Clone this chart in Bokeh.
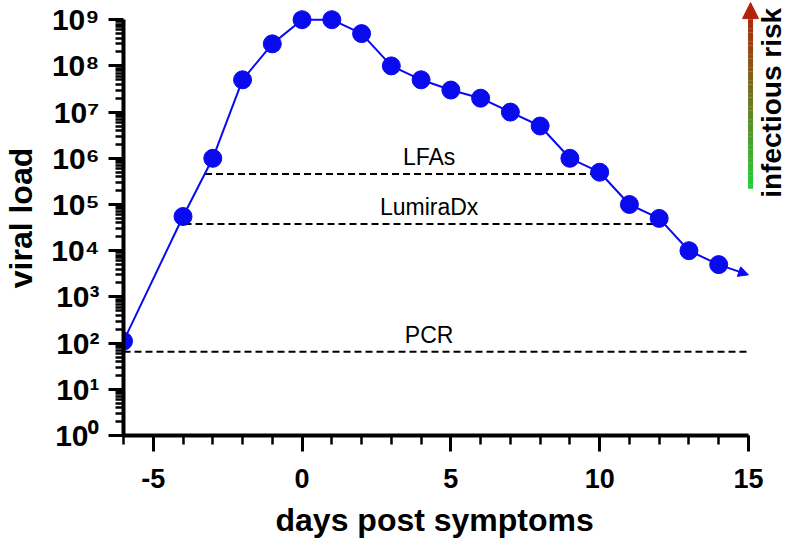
import math
from bokeh.plotting import figure
from bokeh.models import (Range1d, FixedTicker, CustomJSTickFormatter, Arrow,
                          NormalHead, Label, Title)
from bokeh.core.properties import value
from bokeh.embed import file_html
from bokeh.resources import INLINE

# ---- data ----
days = [-6, -4, -3, -2, -1, 0, 1, 2, 3, 4, 5, 6, 7, 8, 9, 10, 11, 12, 13, 14]
viral_load = [1.1e2, 5.5e4, 1e6, 5e7, 3e8, 1e9, 1e9, 5e8, 1e8, 5e7, 3e7, 2e7,
              1e7, 5e6, 1e6, 5e5, 1e5, 5e4, 1e4, 5e3]
tail_day = 15
tail_load = 3e3

lfa_x = [-3.26, 10]
lfa_level = 4.6e5
lumira_x = [-3.95, 12]
lumira_level = 3.8e4
pcr_x = [-6, 15]
pcr_level = 65
threshold_names = ["LFAs", "LumiraDx", "PCR"]
threshold_levels = [lfa_level, lumira_level, pcr_level]
label_day = 4.27

x_major = [-5, 0, 5, 10, 15]
x_minor = list(range(-6, 16))
y_major = [10 ** k for k in range(0, 10)]
y_minor = [m * 10 ** k for k in range(0, 9) for m in range(2, 10)]

x_title = "days post symptoms"
y_title = "viral load"
risk_text = "infectious risk"
risk_day = 15.07
risk_bottom = 10 ** 5.34
risk_shaft_top = 10 ** 9.09
risk_tip = 10 ** 9.37
risk_label_day = 15.79
risk_label_load = 10 ** 7.2

FONT = "Liberation Sans"
BLUE = "#0a0aee"

W, H = 787, 546
left, bottom = 123, 111
px_per_day = 29.76
px_per_dec = 46.2
x_end = -6 + (W - left) / px_per_day
y_top = 10 ** ((H - bottom) / px_per_dec)

p = figure(width=W, height=H, output_backend="svg", toolbar_location=None,
           y_axis_type="log",
           x_range=Range1d(-6, x_end),
           y_range=Range1d(1, y_top),
           min_border_left=left, min_border_right=0, min_border_top=0,
           min_border_bottom=bottom)
p.outline_line_color = None
p.grid.visible = False
p.background_fill_color = "white"

# axes
xa = p.xaxis[0]
ya = p.yaxis[0]
xa.bounds = (-6, 15)
ya.bounds = (1, 1e9)
xa.ticker = FixedTicker(ticks=x_major, minor_ticks=x_minor)
ya.ticker = FixedTicker(ticks=y_major, minor_ticks=y_minor)
xa.formatter = CustomJSTickFormatter(code="return String(tick);")
ya.formatter = CustomJSTickFormatter(code="""
const sup = ['\u2070','\u00b9','\u00b2','\u00b3','\u2074','\u2075','\u2076','\u2077','\u2078','\u2079'];
const k = Math.round(Math.log10(tick));
return '10' + sup[k];
""")
for ax in (xa, ya):
    ax.axis_line_width = 4
    ax.axis_line_color = "black"
    ax.major_tick_line_width = 3
    ax.minor_tick_line_width = 2.5
    ax.major_tick_in = 0
    ax.minor_tick_in = 0
    ax.major_label_text_font = FONT
    ax.major_label_text_font_style = "bold"
    ax.major_label_text_color = "black"
    ax.axis_label_text_font = FONT
    ax.axis_label_text_font_style = "bold"
    ax.axis_label_text_font_size = "32px"
    ax.axis_label_text_color = "black"
xa.major_tick_out = 16
xa.minor_tick_out = 9
ya.major_tick_out = 15
ya.minor_tick_out = 8
xa.major_label_text_font_size = "27px"
ya.major_label_text_font_size = "30px"
xa.major_label_standoff = 17
ya.major_label_standoff = 9
ya.axis_label = y_title
ya.axis_label_standoff = 9

# x-axis title, aligned to the axis' own extent (-6 .. 15)
xt = Title(text=x_title, align="left", offset=152, standoff=0,
           text_font=FONT, text_font_style="bold", text_font_size="32px",
           text_color="black")
try:
    xt.padding = dict(left=0, right=0, top=9, bottom=0)
except Exception:
    pass
p.add_layout(xt, "below")

# threshold lines
for xs, lvl in ((lfa_x, lfa_level), (lumira_x, lumira_level), (pcr_x, pcr_level)):
    p.line(xs, [lvl, lvl], line_color="black", line_width=2, line_dash="7 4")
p.text(x=[label_day] * 3, y=threshold_levels, text=threshold_names,
       text_font=value(FONT), text_font_size="23px", text_color="black",
       text_align="center", text_baseline="bottom", y_offset=-4)

# viral load curve
p.line(days, viral_load, line_color=BLUE, line_width=2)
p.add_layout(Arrow(end=NormalHead(size=10, fill_color=BLUE, line_color=BLUE),
                   x_start=days[-1], y_start=viral_load[-1],
                   x_end=tail_day, y_end=tail_load,
                   line_color=BLUE, line_width=2))
p.scatter(days, viral_load, size=18, color=BLUE)

# infectious-risk gradient arrow
n = 40
lb, lt = math.log10(risk_bottom), math.log10(risk_shaft_top)
c0 = (34, 208, 56)
c1 = (178, 36, 10)
ys0, ys1, cols = [], [], []
for i in range(n):
    f0 = i / n
    f1 = (i + 1) / n
    ys0.append(10 ** (lb + (lt - lb) * f0))
    ys1.append(10 ** (lb + (lt - lb) * f1) * 1.01)
    fm = (i + 0.5) / n
    r, g, b = (round(c0[j] + (c1[j] - c0[j]) * fm) for j in range(3))
    cols.append("#%02x%02x%02x" % (r, g, b))
p.segment(x0=[risk_day] * n, y0=ys0, x1=[risk_day] * n, y1=ys1,
          line_color=cols, line_width=5, line_cap="butt")
p.add_layout(Arrow(end=NormalHead(size=16, fill_color="#b2240a", line_color="#b2240a"),
                   x_start=risk_day, y_start=risk_shaft_top * 0.9,
                   x_end=risk_day, y_end=risk_tip,
                   line_color="#b2240a", line_width=5))
p.add_layout(Label(x=risk_label_day, y=risk_label_load, text=risk_text,
                   angle=math.pi / 2,
                   text_font=FONT, text_font_style="bold", text_font_size="28px",
                   text_color="black", text_align="center", text_baseline="middle"))

open("out.html", "w").write(file_html(p, INLINE))
